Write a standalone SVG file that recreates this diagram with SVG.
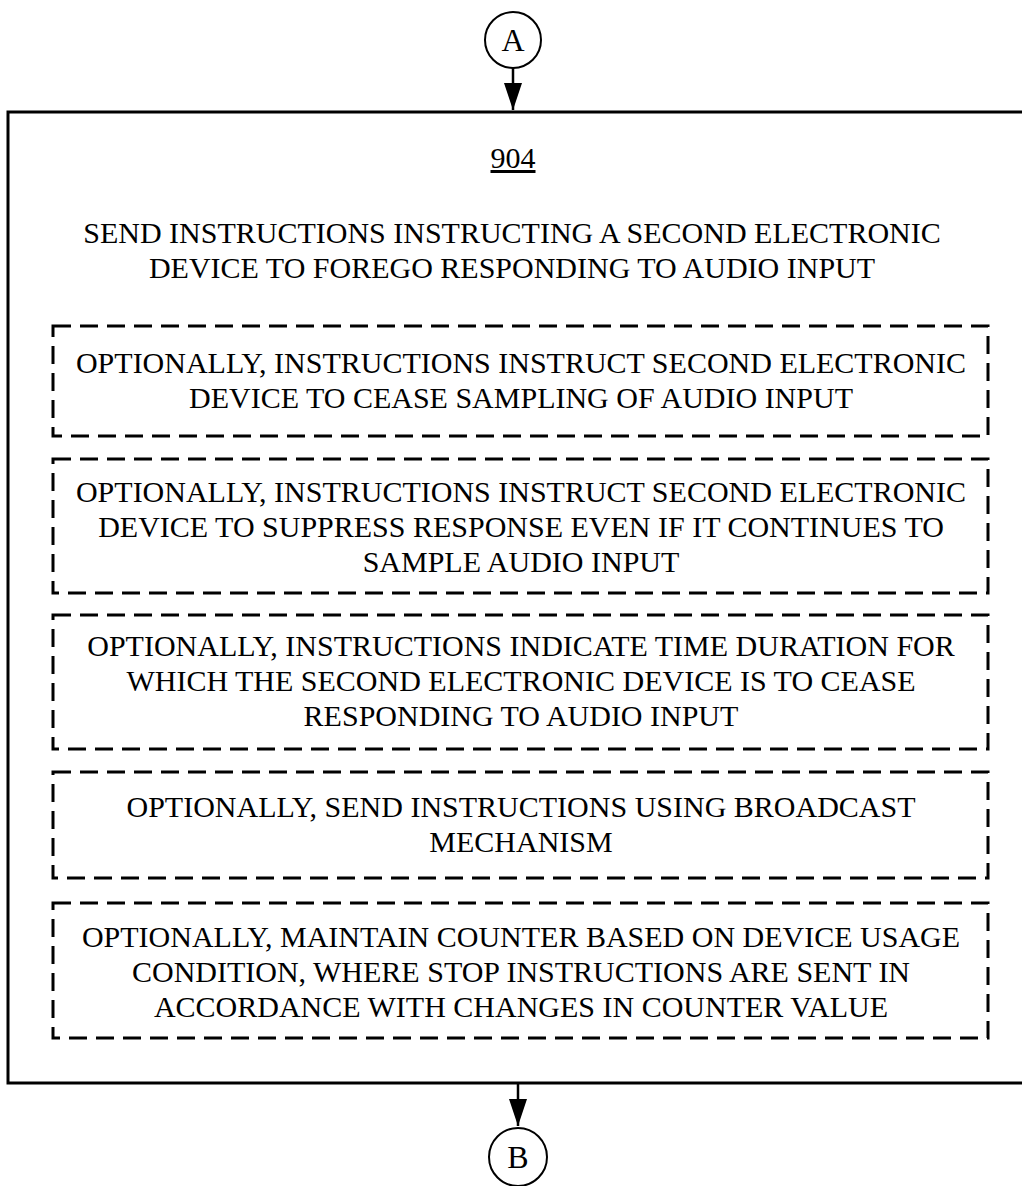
<svg xmlns="http://www.w3.org/2000/svg" width="1022" height="1186" viewBox="0 0 1022 1186">
<style>
text{font-family:"Liberation Serif","Times New Roman",serif;font-size:30px;fill:#000;text-anchor:middle}
.big{font-size:32px}
.dash{fill:none;stroke:#000;stroke-width:3;stroke-dasharray:18 9}
.outer{fill:none;stroke:#000;stroke-width:3}
.conn{fill:none;stroke:#000;stroke-width:2.5}
.circ{fill:#fff;stroke:#000;stroke-width:2}
</style>
<defs>
<marker id="ah" markerWidth="27" markerHeight="18" refX="27" refY="9" orient="auto" markerUnits="userSpaceOnUse" viewBox="0 0 27 18">
<path d="M0,0 L27,9 L0,18 Z" fill="#000"/>
</marker>
</defs>
<g id="connectors">
<line class="conn" x1="513" y1="68" x2="513" y2="110" marker-end="url(#ah)"/>
<line class="conn" x1="518" y1="1084" x2="518" y2="1126" marker-end="url(#ah)"/>
</g>
<g id="nodeA">
<circle class="circ" cx="513" cy="40" r="28"/>
<text class="big" x="513" y="51">A</text>
</g>
<g id="node904">
<rect class="outer" x="8" y="112" width="1030" height="971"/>
<text x="513" y="168" text-decoration="underline">904</text>
<text x="512" y="243">SEND INSTRUCTIONS INSTRUCTING A SECOND ELECTRONIC</text>
<text x="512" y="278">DEVICE TO FOREGO RESPONDING TO AUDIO INPUT</text>
</g>
<g id="opt1">
<rect class="dash" x="53" y="326" width="935" height="110"/>
<text x="521" y="373">OPTIONALLY, INSTRUCTIONS INSTRUCT SECOND ELECTRONIC</text>
<text x="521" y="408">DEVICE TO CEASE SAMPLING OF AUDIO INPUT</text>
</g>
<g id="opt2">
<rect class="dash" x="53" y="459" width="935" height="134"/>
<text x="521" y="502">OPTIONALLY, INSTRUCTIONS INSTRUCT SECOND ELECTRONIC</text>
<text x="521" y="537">DEVICE TO SUPPRESS RESPONSE EVEN IF IT CONTINUES TO</text>
<text x="521" y="572">SAMPLE AUDIO INPUT</text>
</g>
<g id="opt3">
<rect class="dash" x="53" y="615" width="935" height="134"/>
<text x="521" y="656">OPTIONALLY, INSTRUCTIONS INDICATE TIME DURATION FOR</text>
<text x="521" y="691">WHICH THE SECOND ELECTRONIC DEVICE IS TO CEASE</text>
<text x="521" y="726">RESPONDING TO AUDIO INPUT</text>
</g>
<g id="opt4">
<rect class="dash" x="53" y="772" width="935" height="106"/>
<text x="521" y="817">OPTIONALLY, SEND INSTRUCTIONS USING BROADCAST</text>
<text x="521" y="852">MECHANISM</text>
</g>
<g id="opt5">
<rect class="dash" x="53" y="903" width="935" height="135"/>
<text x="521" y="947">OPTIONALLY, MAINTAIN COUNTER BASED ON DEVICE USAGE</text>
<text x="521" y="982">CONDITION, WHERE STOP INSTRUCTIONS ARE SENT IN</text>
<text x="521" y="1017">ACCORDANCE WITH CHANGES IN COUNTER VALUE</text>
</g>
<g id="nodeB">
<circle class="circ" cx="518" cy="1157" r="29"/>
<text class="big" x="518" y="1168">B</text>
</g>
</svg>
